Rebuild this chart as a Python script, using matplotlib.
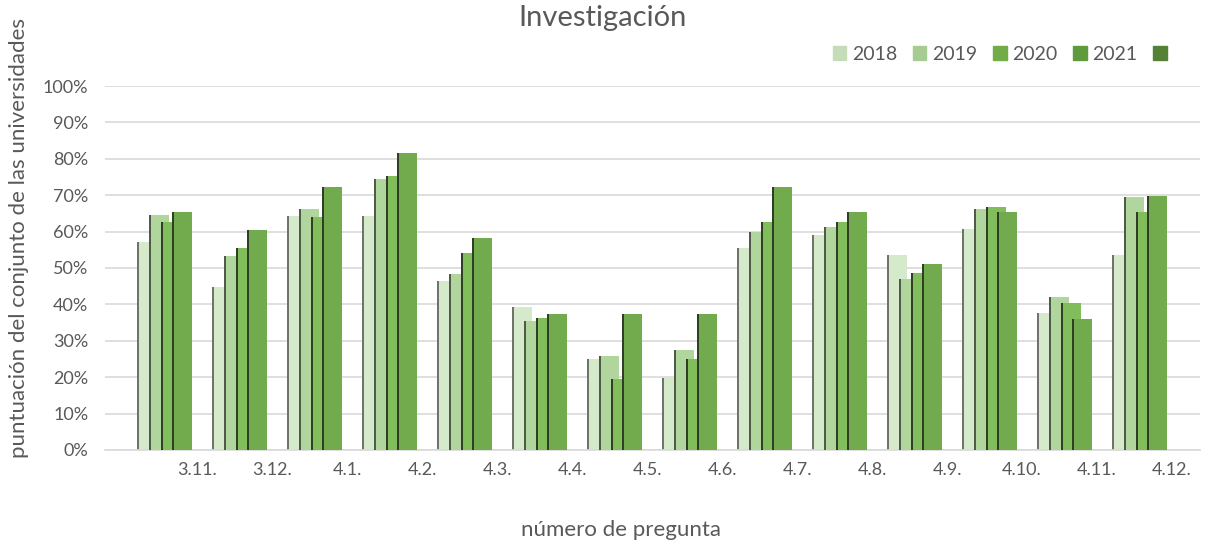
import matplotlib
matplotlib.use("Agg")
import matplotlib.pyplot as plt
from matplotlib.patches import Patch
import numpy as np

plt.rcParams['font.family'] = ['Lato', 'DejaVu Sans']

# data
preguntas = ["3.11.", "3.12.", "4.1.", "4.2.", "4.3.", "4.4.", "4.5.", "4.6.",
             "4.7.", "4.8.", "4.9.", "4.10.", "4.11.", "4.12."]
years = ["2018", "2019", "2020", "2021"]
v2018 = [57.2, 44.7, 64.4, 64.4, 46.5, 39.3, 24.9, 19.7, 55.4, 59.0, 53.7, 60.8, 37.5, 53.7]
v2019 = [64.6, 53.3, 66.2, 74.4, 48.4, 35.5, 25.8, 27.5, 59.8, 61.4, 46.9, 66.2, 42.0, 69.4]
v2020 = [62.7, 55.6, 64.0, 75.2, 54.2, 36.2, 19.5, 25.0, 62.6, 62.6, 48.7, 66.8, 40.3, 65.5]
v2021 = [65.3, 60.5, 72.2, 81.5, 58.2, 37.4, 37.3, 37.3, 72.2, 65.3, 51.2, 65.3, 36.1, 69.9]
series = [v2018, v2019, v2020, v2021]

colors = ["#d4eacb", "#b1d69d", "#81bd5a", "#72aa4e"]
edge_colors = ["#6e736b", "#4f5a48", "#2f3f26", "#2f3f26"]
legend_colors = ["#c5dcb9", "#a6cc92", "#70ad47", "#5e9b3c", "#548235"]
text_col = "#595959"

fig = plt.figure(figsize=(12.09, 5.43), dpi=100)
ax = fig.add_axes([0.0869, 0.1713, 0.9057, 0.6703])

x = np.arange(len(preguntas))
step = 0.156
width = 0.24
start = -0.773
line_w = 0.026

for j, vals in enumerate(series):
    y = np.array(vals) / 100
    left = x + start + step * j
    ax.bar(left, y, width=width, align="edge", color=colors[j], zorder=2 + j)
    # thin dark line on the left side of each bar
    ax.bar(left - line_w, y, width=line_w, align="edge", color=edge_colors[j], zorder=2 + j)

ax.set_xlim(-1.227, 13.373)
ax.set_ylim(0, 1.0)
ax.set_yticks(np.arange(0, 1.01, 0.1))
ax.set_yticklabels([f"{int(round(t * 100))}%" for t in np.arange(0, 1.01, 0.1)])
ax.set_xticks(x)
ax.set_xticklabels(preguntas)
ax.tick_params(axis="both", length=0, labelsize=13, colors=text_col)
ax.tick_params(axis="x", pad=9)
ax.tick_params(axis="y", pad=12)

ax.grid(axis="y", color="#d9d9d9", linewidth=1.2, zorder=0)
ax.set_axisbelow(True)
for s in ["top", "right", "left"]:
    ax.spines[s].set_visible(False)
ax.spines["bottom"].set_color("#d9d9d9")
ax.spines["bottom"].set_linewidth(1.2)

fig.text(0.4988, 0.966, "Investigación", ha="center", va="center", fontsize=21, color=text_col)
fig.text(0.5136, 0.024, "número de pregunta", ha="center", va="center", fontsize=16, color=text_col)
fig.text(0.016, 0.562, "puntuación del conjunto de las universidades", rotation=90,
         ha="center", va="center", fontsize=16, color=text_col)

handles = [Patch(color=c) for c in legend_colors]
labels = years + [""]
fig.legend(handles, labels, loc="center right", bbox_to_anchor=(0.9845, 0.9), ncol=5,
           frameon=False, fontsize=14, labelcolor=text_col, handlelength=0.7,
           handleheight=0.7, handletextpad=0.3, columnspacing=0.8)

fig.savefig("out.png", dpi=100)
